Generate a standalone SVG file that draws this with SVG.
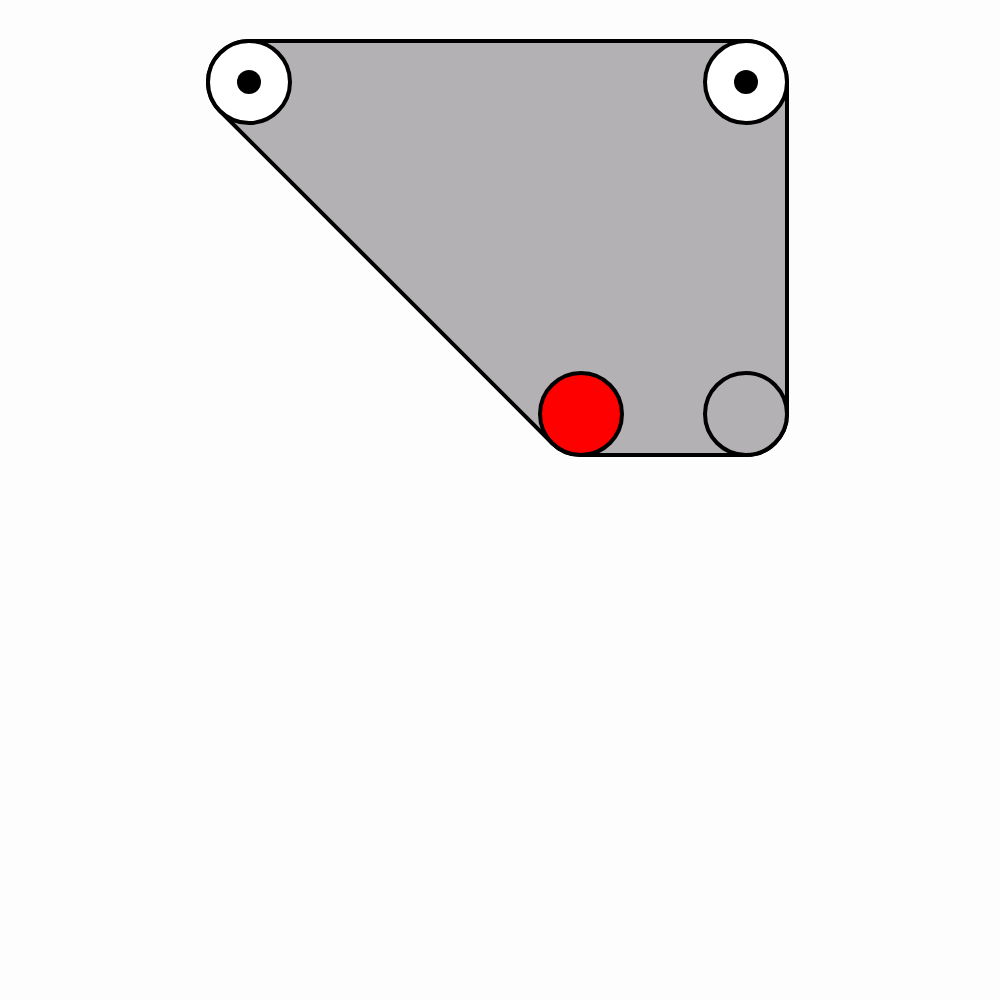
<svg xmlns="http://www.w3.org/2000/svg" width="1000" height="1000" viewBox="0 0 1000 1000">
<style>
.hull{fill:#b3b1b4;stroke:#000;stroke-width:4;stroke-linejoin:round}
.ring{stroke:#000;stroke-width:4}
</style>
<rect width="1000" height="1000" fill="#fdfdfd"/>
<g id="hull">
<path class="hull" d="M249,41 L746,41 A41,41 0 0 1 787,82 L787,414 A41,41 0 0 1 746,455 L581,455 A41,41 0 0 1 552,443 L220,111 A41,41 0 0 1 249,41 Z"/>
</g>
<g id="node-top-left">
<circle class="ring" cx="249" cy="82" r="41" fill="#fff"/>
<circle cx="249" cy="82" r="12" fill="#000"/>
</g>
<g id="node-top-right">
<circle class="ring" cx="746" cy="82" r="41" fill="#fff"/>
<circle cx="746" cy="82" r="12" fill="#000"/>
</g>
<g id="node-bottom-left">
<circle class="ring" cx="581" cy="414" r="41" fill="#ff0000"/>
</g>
<g id="node-bottom-right">
<circle class="ring" cx="746" cy="414" r="41" fill="#b3b1b4"/>
</g>
<g id="connectors"></g>
</svg>
